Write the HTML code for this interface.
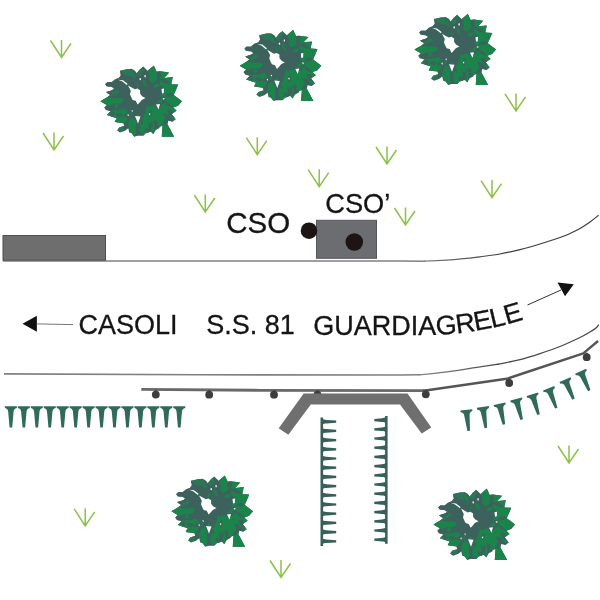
<!DOCTYPE html>
<html lang="it">
<head>
<meta charset="utf-8">
<title>CSO – S.S. 81</title>
<style>html,body{margin:0;padding:0;background:#fff;}body{width:600px;height:600px;overflow:hidden;}svg{display:block;will-change:transform;}</style>
</head>
<body>
<svg width="600" height="600" viewBox="0 0 600 600">
<rect width="600" height="600" fill="#fff"/>
<defs><g id="tree"><clipPath id="tc"><polygon points="120.0,70.8 126.7,69.2 131.7,68.8 135.0,70.8 136.7,73.3 140.0,69.2 143.3,66.5 147.5,70.8 153.8,65.4 156.7,71.7 160.0,71.3 169.2,72.5 164.2,77.9 172.9,77.1 171.3,84.2 178.3,84.6 173.8,95.0 182.1,101.3 178.3,105.8 173.3,107.5 176.7,110.8 171.7,114.2 175.8,119.2 172.5,121.7 168.3,120.8 167.5,124.2 174.2,136.7 161.7,136.7 162.5,125.8 160.0,126.7 159.2,128.3 155.8,130.0 153.3,134.2 150.8,131.7 145.8,133.3 143.3,135.8 137.5,135.8 134.2,136.7 131.7,133.3 129.2,132.5 128.3,128.3 125.0,130.8 120.0,132.5 117.1,130.4 119.2,127.5 124.2,125.8 123.3,123.3 114.6,122.1 116.7,118.3 106.7,115.0 110.8,111.3 105.8,110.0 104.2,107.5 106.7,105.0 100.4,101.3 107.5,97.1 110.0,95.0 105.8,92.1 111.7,90.4 114.2,88.8 111.7,87.1 106.7,86.3 105.0,84.2 107.5,82.1 111.7,82.1 115.0,79.2 119.0,78.0 120.8,75.0"/></clipPath>
<polygon points="120.0,70.8 126.7,69.2 131.7,68.8 135.0,70.8 136.7,73.3 140.0,69.2 143.3,66.5 147.5,70.8 153.8,65.4 156.7,71.7 160.0,71.3 169.2,72.5 164.2,77.9 172.9,77.1 171.3,84.2 178.3,84.6 173.8,95.0 182.1,101.3 178.3,105.8 173.3,107.5 176.7,110.8 171.7,114.2 175.8,119.2 172.5,121.7 168.3,120.8 167.5,124.2 174.2,136.7 161.7,136.7 162.5,125.8 160.0,126.7 159.2,128.3 155.8,130.0 153.3,134.2 150.8,131.7 145.8,133.3 143.3,135.8 137.5,135.8 134.2,136.7 131.7,133.3 129.2,132.5 128.3,128.3 125.0,130.8 120.0,132.5 117.1,130.4 119.2,127.5 124.2,125.8 123.3,123.3 114.6,122.1 116.7,118.3 106.7,115.0 110.8,111.3 105.8,110.0 104.2,107.5 106.7,105.0 100.4,101.3 107.5,97.1 110.0,95.0 105.8,92.1 111.7,90.4 114.2,88.8 111.7,87.1 106.7,86.3 105.0,84.2 107.5,82.1 111.7,82.1 115.0,79.2 119.0,78.0 120.8,75.0" fill="#3d615c"/>
<g clip-path="url(#tc)">
<path d="M157.0,77.0 Q165.1,84.0 169.2,72.5 Q158.6,66.4 157.0,77.0 Z M160.0,85.0 Q170.8,91.1 172.9,77.1 Q159.5,72.6 160.0,85.0 Z M162.0,93.0 Q174.5,101.2 178.3,84.6 Q162.5,78.0 162.0,93.0 Z M163.0,99.0 Q169.0,113.6 182.1,101.3 Q172.3,86.2 163.0,99.0 Z M163.0,104.0 Q168.1,113.4 178.3,105.8 Q170.1,96.1 163.0,104.0 Z M162.0,107.0 Q165.3,118.3 176.7,110.8 Q170.4,98.7 162.0,107.0 Z M161.0,110.0 Q162.3,121.1 175.8,119.2 Q171.5,106.3 161.0,110.0 Z M152.5,83.0 Q165.3,76.9 153.8,65.4 Q140.7,75.1 152.5,83.0 Z M124.0,100.0 Q113.9,88.2 100.4,101.3 Q115.2,112.8 124.0,100.0 Z M128.0,112.0 Q117.6,99.6 106.7,115.0 Q121.4,126.8 128.0,112.0 Z M128.0,116.0 Q118.7,109.9 114.6,122.1 Q126.5,127.0 128.0,116.0 Z M143.0,117.0 Q130.8,124.7 143.3,135.8 Q155.4,124.3 143.0,117.0 Z M132.0,117.0 Q123.5,125.9 134.2,136.7 Q142.2,123.8 132.0,117.0 Z M157.0,107.0 Q143.9,117.2 160.0,127.0 Q172.5,112.8 157.0,107.0 Z M147.0,105.0 Q141.0,118.5 153.3,134.2 Q158.0,114.8 147.0,105.0 Z M150.0,106.0 Q145.3,114.0 155.0,112.0 Q158.7,102.8 150.0,106.0 Z" fill="#1b844b"/>
<polygon points="162.5,125.8 167.5,124.2 174.2,136.7 161.7,136.7" fill="#1b844b"/>
<path d="M135.0,74.0 Q130.5,65.9 120.0,70.8 Q127.5,79.6 135.0,74.0 Z M137.0,77.0 Q144.7,75.9 143.3,66.5 Q134.4,69.7 137.0,77.0 Z M120.0,92.0 Q114.3,86.5 105.8,92.1 Q114.4,97.5 120.0,92.0 Z M124.0,127.0 Q119.0,123.9 117.1,130.4 Q123.5,132.8 124.0,127.0 Z" fill="#2b7755"/>
<path d="M160.0,79.0 Q163.1,84.3 171.3,84.2 Q166.0,77.9 160.0,79.0 Z M162.0,96.0 Q167.0,99.1 173.8,95.0 Q166.4,92.1 162.0,96.0 Z M163.0,101.5 Q165.6,106.5 173.3,107.5 Q168.6,101.3 163.0,101.5 Z M125.0,105.0 Q116.1,101.5 104.2,107.5 Q117.2,110.5 125.0,105.0 Z M126.0,108.0 Q117.6,105.8 105.8,110.0 Q118.2,111.8 126.0,108.0 Z M138.0,119.0 Q133.8,125.6 137.5,135.8 Q141.8,125.8 138.0,119.0 Z M150.0,118.0 Q145.8,123.7 150.8,131.7 Q154.8,123.2 150.0,118.0 Z M163.0,113.0 Q164.1,119.4 172.5,121.7 Q169.5,113.5 163.0,113.0 Z M125.0,96.0 Q117.7,92.4 107.5,97.1 Q118.3,100.4 125.0,96.0 Z M148.0,80.0 Q152.3,76.1 147.5,70.8 Q143.3,76.6 148.0,80.0 Z M158.0,80.0 Q162.7,77.4 160.0,71.3 Q154.9,75.6 158.0,80.0 Z" fill="#3d615c"/>
<path d="M132.3,112.4 Q128.3,111.3 128.6,116.1 Q133.3,116.4 132.3,112.4 Z M161.1,106.9 Q164.9,107.4 166.5,102.8 Q161.7,103.2 161.1,106.9 Z M149.0,110.4 Q150.6,114.5 156.3,114.2 Q153.2,109.4 149.0,110.4 Z M126.4,85.4 Q127.4,82.2 123.4,81.0 Q123.0,85.1 126.4,85.4 Z M152.7,116.2 Q156.0,120.1 160.3,115.8 Q155.5,112.0 152.7,116.2 Z M153.2,87.3 Q157.2,89.7 160.1,84.7 Q154.7,82.8 153.2,87.3 Z M151.8,111.2 Q153.3,115.3 159.0,115.8 Q156.1,110.8 151.8,111.2 Z M120.1,120.9 Q118.2,117.8 114.6,120.2 Q117.6,123.5 120.1,120.9 Z M141.9,119.8 Q139.2,122.0 141.3,125.8 Q144.1,122.5 141.9,119.8 Z M123.1,111.3 Q120.4,114.3 123.0,118.9 Q125.7,114.4 123.1,111.3 Z M143.7,113.6 Q142.8,116.8 146.7,117.9 Q146.9,113.9 143.7,113.6 Z M155.8,110.4 Q160.4,112.4 163.6,107.0 Q157.4,105.6 155.8,110.4 Z M117.3,103.8 Q113.5,104.4 115.0,108.7 Q119.3,107.2 117.3,103.8 Z M147.2,86.7 Q148.4,81.8 142.6,79.2 Q142.3,85.5 147.2,86.7 Z M151.1,76.8 Q153.8,73.4 149.9,69.8 Q147.4,74.5 151.1,76.8 Z M157.8,102.4 Q162.2,105.5 165.1,99.7 Q159.2,97.2 157.8,102.4 Z M169.7,88.1 Q170.2,92.0 175.0,91.8 Q173.5,87.2 169.7,88.1 Z M145.1,114.0 Q141.2,117.7 145.6,122.6 Q149.5,117.2 145.1,114.0 Z M160.1,96.2 Q164.9,98.5 168.2,92.8 Q161.8,91.2 160.1,96.2 Z M165.4,96.6 Q169.2,97.8 171.9,93.4 Q166.8,92.9 165.4,96.6 Z M138.2,118.7 Q138.3,123.4 144.1,125.0 Q142.9,119.0 138.2,118.7 Z M150.0,117.4 Q146.9,120.2 150.0,124.6 Q153.2,120.3 150.0,117.4 Z M108.0,103.4 Q106.0,98.2 99.8,100.9 Q103.4,106.6 108.0,103.4 Z M150.9,116.0 Q149.7,119.7 154.1,121.5 Q154.7,116.8 150.9,116.0 Z M137.2,87.6 Q139.5,84.8 136.8,80.9 Q134.5,85.1 137.2,87.6 Z M154.0,109.6 Q158.1,111.3 161.6,106.8 Q156.0,105.6 154.0,109.6 Z M137.8,113.4 Q134.7,115.3 136.7,119.3 Q140.0,116.2 137.8,113.4 Z M155.7,104.3 Q158.6,108.0 161.9,103.7 Q157.8,100.0 155.7,104.3 Z M122.9,99.5 Q120.0,97.3 118.2,101.2 Q122.0,103.0 122.9,99.5 Z M137.0,78.0 Q138.1,73.0 132.1,73.1 Q131.9,79.2 137.0,78.0 Z" fill="#1b844b"/>
<path d="M113.2,111.6 Q109.0,112.9 111.7,117.3 Q116.2,114.9 113.2,111.6 Z M121.0,90.7 Q125.1,88.5 120.8,85.5 Q116.7,88.8 121.0,90.7 Z M130.4,81.9 Q130.4,77.4 124.9,77.1 Q125.9,82.5 130.4,81.9 Z M146.9,76.2 Q149.5,72.4 144.9,69.2 Q142.7,74.3 146.9,76.2 Z M137.1,82.8 Q140.8,84.1 141.5,79.5 Q136.8,78.8 137.1,82.8 Z M156.6,75.3 Q160.4,73.9 160.3,68.6 Q155.8,71.3 156.6,75.3 Z M119.7,75.9 Q123.1,73.6 120.1,69.8 Q116.6,73.2 119.7,75.9 Z M161.5,102.3 Q164.8,103.3 166.1,99.3 Q161.9,98.9 161.5,102.3 Z M110.3,91.1 Q111.1,86.6 105.8,83.9 Q105.9,89.8 110.3,91.1 Z M122.9,115.5 Q120.5,111.5 115.3,114.2 Q119.3,118.5 122.9,115.5 Z M133.2,88.2 Q138.4,86.9 136.5,80.7 Q130.6,83.5 133.2,88.2 Z M139.2,117.5 Q135.8,120.7 140.8,122.7 Q143.9,118.4 139.2,117.5 Z M126.5,96.2 Q124.5,91.1 118.0,93.3 Q121.7,99.1 126.5,96.2 Z M138.1,117.8 Q137.3,122.5 143.1,124.1 Q142.9,118.1 138.1,117.8 Z M131.1,113.3 Q126.2,110.7 122.8,116.6 Q129.4,118.5 131.1,113.3 Z M122.9,78.1 Q120.1,73.6 115.3,77.7 Q119.6,82.3 122.9,78.1 Z M139.5,79.2 Q139.8,74.7 134.2,73.0 Q135.0,78.8 139.5,79.2 Z M150.7,109.8 Q147.5,112.8 149.7,118.0 Q153.1,113.4 150.7,109.8 Z M165.1,95.2 Q168.9,98.2 173.7,94.2 Q168.1,91.5 165.1,95.2 Z M147.4,85.7 Q150.2,83.1 147.0,79.6 Q144.3,83.5 147.4,85.7 Z M112.6,85.5 Q110.5,81.0 104.4,82.5 Q108.1,87.6 112.6,85.5 Z M126.3,97.7 Q124.0,95.2 120.5,97.6 Q123.9,100.2 126.3,97.7 Z M112.5,90.7 Q108.5,89.5 106.2,94.3 Q111.5,94.7 112.5,90.7 Z M142.7,78.9 Q147.8,76.9 144.9,71.1 Q139.4,74.6 142.7,78.9 Z M121.9,86.0 Q121.9,81.4 116.2,80.8 Q117.3,86.4 121.9,86.0 Z M109.8,89.0 Q111.3,85.8 107.4,84.0 Q106.4,88.2 109.8,89.0 Z M155.5,106.6 Q160.1,108.7 162.3,103.0 Q156.3,101.5 155.5,106.6 Z M154.9,119.8 Q151.3,123.0 156.3,125.2 Q159.6,120.9 154.9,119.8 Z M145.6,127.8 Q142.6,132.2 148.4,134.2 Q150.8,128.6 145.6,127.8 Z M123.0,84.8 Q118.7,81.4 114.2,86.4 Q120.2,89.5 123.0,84.8 Z M111.9,112.7 Q110.2,109.4 106.0,111.4 Q109.0,114.9 111.9,112.7 Z M115.1,89.1 Q111.5,86.5 110.4,91.4 Q114.9,93.5 115.1,89.1 Z M168.0,112.1 Q168.6,116.3 174.0,117.7 Q172.3,112.4 168.0,112.1 Z M167.1,110.6 Q168.4,114.8 173.2,112.5 Q170.7,107.9 167.1,110.6 Z" fill="#3d615c"/>
<polygon points="162.5,125.8 167.5,124.2 174.2,136.7 161.7,136.7" fill="#1b844b"/>
</g>
<polygon points="128.0,85.4 131.7,87.6 134.8,89.3 137.4,88.5 140.1,90.2 140.1,93.7 142.3,96.4 145.5,98.1 141.8,99.9 139.6,102.5 137.6,104.6 135.7,100.8 132.6,99.9 131.3,97.3 130.0,94.2 130.8,90.7" fill="#fff"/>
<polygon points="118.0,79.8 123.0,80.2 127.5,83.8 127.0,85.0 122.0,81.2" fill="#fff"/>
<polygon points="135.0,116.0 140.5,116.5 138.0,123.5" fill="#fff"/>
<polygon points="156.0,104.5 160.0,104.0 158.5,109.5" fill="#fff"/>
<polygon points="161.5,89.0 164.0,88.5 163.8,93.0 162.0,93.5" fill="#fff"/>
<polygon points="139.3,78.5 140.7,78.0 141.0,80.0 139.8,80.3" fill="#fff"/>
<polygon points="144.3,75.3 145.7,75.0 145.7,77.2 144.6,77.2" fill="#fff"/>
<polygon points="162.5,98.2 164.5,98.0 164.0,100.0" fill="#fff"/>
<polygon points="127.2,114.7 128.8,114.3 128.4,116.6" fill="#fff"/>
<polygon points="131.2,110.6 132.8,110.3 132.4,112.3" fill="#fff"/>
<polygon points="148.7,113.7 150.3,113.3 150.0,115.6" fill="#fff"/></g><linearGradient id="gu" gradientUnits="userSpaceOnUse" x1="425" y1="0" x2="500" y2="0"><stop offset="0" stop-color="#808080"/><stop offset="1" stop-color="#3c3c3c"/></linearGradient><linearGradient id="gl" gradientUnits="userSpaceOnUse" x1="425" y1="0" x2="500" y2="0"><stop offset="0" stop-color="#808080"/><stop offset="1" stop-color="#484848"/></linearGradient></defs>
<path d="M50.5,40.5 L61.5,57.5 L71.0,43.5 M61.5,40.0 L61.5,57.5" fill="none" stroke="#8ac146" stroke-width="1.5" stroke-linejoin="miter"/>
<path d="M43.0,133.0 L54.0,150.0 L63.5,136.0 M54.0,132.5 L54.0,150.0" fill="none" stroke="#8ac146" stroke-width="1.5" stroke-linejoin="miter"/>
<path d="M194.3,195.0 L205.3,212.0 L214.8,198.0 M205.3,194.5 L205.3,212.0" fill="none" stroke="#8ac146" stroke-width="1.5" stroke-linejoin="miter"/>
<path d="M246.3,137.7 L257.3,154.7 L266.8,140.7 M257.3,137.2 L257.3,154.7" fill="none" stroke="#8ac146" stroke-width="1.5" stroke-linejoin="miter"/>
<path d="M308.2,169.7 L319.2,186.7 L328.7,172.7 M319.2,169.2 L319.2,186.7" fill="none" stroke="#8ac146" stroke-width="1.5" stroke-linejoin="miter"/>
<path d="M376.0,147.0 L387.0,164.0 L396.5,150.0 M387.0,146.5 L387.0,164.0" fill="none" stroke="#8ac146" stroke-width="1.5" stroke-linejoin="miter"/>
<path d="M394.5,208.0 L405.5,225.0 L415.0,211.0 M405.5,207.5 L405.5,225.0" fill="none" stroke="#8ac146" stroke-width="1.5" stroke-linejoin="miter"/>
<path d="M481.0,180.6 L492.0,197.6 L501.5,183.6 M492.0,180.1 L492.0,197.6" fill="none" stroke="#8ac146" stroke-width="1.5" stroke-linejoin="miter"/>
<path d="M505.0,93.9 L516.0,110.9 L525.5,96.9 M516.0,93.4 L516.0,110.9" fill="none" stroke="#8ac146" stroke-width="1.5" stroke-linejoin="miter"/>
<path d="M74.2,508.8 L85.2,525.8 L94.7,511.8 M85.2,508.3 L85.2,525.8" fill="none" stroke="#8ac146" stroke-width="1.5" stroke-linejoin="miter"/>
<path d="M270.0,560.5 L281.0,577.5 L290.5,563.5 M281.0,560.0 L281.0,577.5" fill="none" stroke="#8ac146" stroke-width="1.5" stroke-linejoin="miter"/>
<path d="M558.0,446.0 L569.0,463.0 L578.5,449.0 M569.0,445.5 L569.0,463.0" fill="none" stroke="#8ac146" stroke-width="1.5" stroke-linejoin="miter"/>
<use href="#tree" x="0" y="0"/>
<use href="#tree" x="139.3" y="-35.6"/>
<use href="#tree" x="314" y="-51.7"/>
<use href="#tree" x="71" y="410"/>
<use href="#tree" x="333" y="423.2"/>
<path d="M3,261.1 L400,261.1 L425,261.15" fill="none" stroke="#808080" stroke-width="1.5"/>
<path d="M424.0,261.1 C427.8,261.0 440.1,260.6 446.7,260.2 C453.2,259.8 457.8,259.3 463.3,258.7 C468.9,258.1 473.9,257.6 480.0,256.8 C486.1,256.0 493.3,255.2 500.0,254.0 C506.7,252.8 513.3,251.3 520.0,249.6 C526.7,247.9 533.3,246.0 540.0,244.0 C546.7,242.0 555.0,239.2 560.0,237.5 C565.0,235.8 566.7,235.0 570.0,233.5 C573.3,232.0 576.7,230.4 580.0,228.5 C583.3,226.6 586.9,224.2 590.0,222.0 C593.1,219.8 597.1,216.4 598.5,215.3" fill="none" stroke="url(#gu)" stroke-width="1.2"/>
<rect x="3" y="235.5" width="102.5" height="24.7" fill="#6e6e6e" stroke="#4e4e4e" stroke-width="1"/>
<rect x="316.5" y="220.3" width="60" height="38" fill="#6b6d70" stroke="#55585a" stroke-width="1"/>
<circle cx="309" cy="230.7" r="8.3" fill="#1c1514"/>
<circle cx="354.3" cy="242" r="8.8" fill="#1c1514"/>
<path d="M4,373.9 L200,374.8 L400,375 L420,374.8" fill="none" stroke="#808080" stroke-width="1.6"/>
<path d="M419.0,374.9 C420.8,374.7 425.3,374.3 430.0,373.8 C434.7,373.3 441.5,372.5 447.0,371.8 C452.5,371.1 457.5,370.4 463.0,369.6 C468.5,368.8 473.8,367.8 480.0,366.8 C486.2,365.8 493.3,365.0 500.0,363.8 C506.7,362.6 513.3,361.3 520.0,359.6 C526.7,357.9 533.3,355.8 540.0,353.6 C546.7,351.4 553.3,349.2 560.0,346.5 C566.7,343.8 575.0,339.9 580.0,337.5 C585.0,335.1 587.3,333.6 590.0,332.0 C592.7,330.4 594.5,329.2 596.0,328.0 C597.5,326.8 598.2,325.3 598.7,324.8" fill="none" stroke="url(#gl)" stroke-width="1.3"/>
<path d="M141.3,389.4 L260,390.3 L425,390.6" fill="none" stroke="#696969" stroke-width="2.8"/>
<path d="M423,390.8 L425.5,390.5 L506.7,378.8 L583.3,353.3 L598,341" fill="none" stroke="#555" stroke-width="2.4" stroke-linejoin="round"/>
<rect x="154.8" y="390.1" width="2" height="3" fill="#444"/>
<circle cx="155.8" cy="394.6" r="3.9" fill="#3d3d3d"/>
<rect x="208.2" y="390.2" width="2" height="3" fill="#444"/>
<circle cx="209.2" cy="394.7" r="3.9" fill="#3d3d3d"/>
<rect x="273.0" y="390.2" width="2" height="3" fill="#444"/>
<circle cx="274" cy="394.7" r="3.9" fill="#3d3d3d"/>
<rect x="316.5" y="390.2" width="2" height="3" fill="#444"/>
<circle cx="317.5" cy="394.7" r="3.9" fill="#3d3d3d"/>
<rect x="424.8" y="389.8" width="2" height="3" fill="#444"/>
<circle cx="425.8" cy="394.3" r="3.9" fill="#3d3d3d"/>
<rect x="508.2" y="378.5" width="2" height="3" fill="#444"/>
<circle cx="509.2" cy="383" r="3.9" fill="#3d3d3d"/>
<rect x="585.7" y="352.7" width="2" height="3" fill="#444"/>
<circle cx="586.7" cy="357.2" r="3.9" fill="#3d3d3d"/>
<polygon points="303.7,393.5 407.5,393.5 431.3,427.5 421.7,433.5 400.0,404.5 310.8,404.5 288.3,434.7 278.7,428.3" fill="#6f6f6f"/>
<path d="M-6,0 L6,0 L6,1.9 C3.8,2.3 3,3.4 2.7,5.5 L1.3,21.3 L-1.3,21.3 L-2.7,5.5 C-3,3.4 -3.8,2.3 -6,1.9 Z" transform="translate(10.90,406.2)" fill="#2f6b58"/>
<path d="M-6,0 L6,0 L6,1.9 C3.8,2.3 3,3.4 2.7,5.5 L1.3,21.3 L-1.3,21.3 L-2.7,5.5 C-3,3.4 -3.8,2.3 -6,1.9 Z" transform="translate(23.85,406.2)" fill="#2f6b58"/>
<path d="M-6,0 L6,0 L6,1.9 C3.8,2.3 3,3.4 2.7,5.5 L1.3,21.3 L-1.3,21.3 L-2.7,5.5 C-3,3.4 -3.8,2.3 -6,1.9 Z" transform="translate(36.80,406.2)" fill="#2f6b58"/>
<path d="M-6,0 L6,0 L6,1.9 C3.8,2.3 3,3.4 2.7,5.5 L1.3,21.3 L-1.3,21.3 L-2.7,5.5 C-3,3.4 -3.8,2.3 -6,1.9 Z" transform="translate(49.75,406.2)" fill="#2f6b58"/>
<path d="M-6,0 L6,0 L6,1.9 C3.8,2.3 3,3.4 2.7,5.5 L1.3,21.3 L-1.3,21.3 L-2.7,5.5 C-3,3.4 -3.8,2.3 -6,1.9 Z" transform="translate(62.70,406.2)" fill="#2f6b58"/>
<path d="M-6,0 L6,0 L6,1.9 C3.8,2.3 3,3.4 2.7,5.5 L1.3,21.3 L-1.3,21.3 L-2.7,5.5 C-3,3.4 -3.8,2.3 -6,1.9 Z" transform="translate(75.65,406.2)" fill="#2f6b58"/>
<path d="M-6,0 L6,0 L6,1.9 C3.8,2.3 3,3.4 2.7,5.5 L1.3,21.3 L-1.3,21.3 L-2.7,5.5 C-3,3.4 -3.8,2.3 -6,1.9 Z" transform="translate(88.60,406.2)" fill="#2f6b58"/>
<path d="M-6,0 L6,0 L6,1.9 C3.8,2.3 3,3.4 2.7,5.5 L1.3,21.3 L-1.3,21.3 L-2.7,5.5 C-3,3.4 -3.8,2.3 -6,1.9 Z" transform="translate(101.55,406.2)" fill="#2f6b58"/>
<path d="M-6,0 L6,0 L6,1.9 C3.8,2.3 3,3.4 2.7,5.5 L1.3,21.3 L-1.3,21.3 L-2.7,5.5 C-3,3.4 -3.8,2.3 -6,1.9 Z" transform="translate(114.50,406.2)" fill="#2f6b58"/>
<path d="M-6,0 L6,0 L6,1.9 C3.8,2.3 3,3.4 2.7,5.5 L1.3,21.3 L-1.3,21.3 L-2.7,5.5 C-3,3.4 -3.8,2.3 -6,1.9 Z" transform="translate(127.45,406.2)" fill="#2f6b58"/>
<path d="M-6,0 L6,0 L6,1.9 C3.8,2.3 3,3.4 2.7,5.5 L1.3,21.3 L-1.3,21.3 L-2.7,5.5 C-3,3.4 -3.8,2.3 -6,1.9 Z" transform="translate(140.40,406.2)" fill="#2f6b58"/>
<path d="M-6,0 L6,0 L6,1.9 C3.8,2.3 3,3.4 2.7,5.5 L1.3,21.3 L-1.3,21.3 L-2.7,5.5 C-3,3.4 -3.8,2.3 -6,1.9 Z" transform="translate(153.35,406.2)" fill="#2f6b58"/>
<path d="M-6,0 L6,0 L6,1.9 C3.8,2.3 3,3.4 2.7,5.5 L1.3,21.3 L-1.3,21.3 L-2.7,5.5 C-3,3.4 -3.8,2.3 -6,1.9 Z" transform="translate(166.30,406.2)" fill="#2f6b58"/>
<path d="M-6,0 L6,0 L6,1.9 C3.8,2.3 3,3.4 2.7,5.5 L1.3,21.3 L-1.3,21.3 L-2.7,5.5 C-3,3.4 -3.8,2.3 -6,1.9 Z" transform="translate(179.25,406.2)" fill="#2f6b58"/>
<path d="M-6,0 L6,0 L6,1.9 C3.8,2.3 3,3.4 2.7,5.5 L1.3,21.3 L-1.3,21.3 L-2.7,5.5 C-3,3.4 -3.8,2.3 -6,1.9 Z" transform="translate(466.40,410.80) rotate(-6.5) translate(0,-1)" fill="#2f6b58"/>
<path d="M-6,0 L6,0 L6,1.9 C3.8,2.3 3,3.4 2.7,5.5 L1.3,21.3 L-1.3,21.3 L-2.7,5.5 C-3,3.4 -3.8,2.3 -6,1.9 Z" transform="translate(483.00,407.90) rotate(-8) translate(0,-1)" fill="#2f6b58"/>
<path d="M-6,0 L6,0 L6,1.9 C3.8,2.3 3,3.4 2.7,5.5 L1.3,21.3 L-1.3,21.3 L-2.7,5.5 C-3,3.4 -3.8,2.3 -6,1.9 Z" transform="translate(499.70,404.70) rotate(-12) translate(0,-1)" fill="#2f6b58"/>
<path d="M-6,0 L6,0 L6,1.9 C3.8,2.3 3,3.4 2.7,5.5 L1.3,21.3 L-1.3,21.3 L-2.7,5.5 C-3,3.4 -3.8,2.3 -6,1.9 Z" transform="translate(516.40,400.00) rotate(-15) translate(0,-1)" fill="#2f6b58"/>
<path d="M-6,0 L6,0 L6,1.9 C3.8,2.3 3,3.4 2.7,5.5 L1.3,21.3 L-1.3,21.3 L-2.7,5.5 C-3,3.4 -3.8,2.3 -6,1.9 Z" transform="translate(532.60,395.20) rotate(-17) translate(0,-1)" fill="#2f6b58"/>
<path d="M-6,0 L6,0 L6,1.9 C3.8,2.3 3,3.4 2.7,5.5 L1.3,21.3 L-1.3,21.3 L-2.7,5.5 C-3,3.4 -3.8,2.3 -6,1.9 Z" transform="translate(549.00,389.20) rotate(-21) translate(0,-1)" fill="#2f6b58"/>
<path d="M-6,0 L6,0 L6,1.9 C3.8,2.3 3,3.4 2.7,5.5 L1.3,21.3 L-1.3,21.3 L-2.7,5.5 C-3,3.4 -3.8,2.3 -6,1.9 Z" transform="translate(565.40,380.50) rotate(-23.5) translate(0,-1)" fill="#2f6b58"/>
<path d="M-6,0 L6,0 L6,1.9 C3.8,2.3 3,3.4 2.7,5.5 L1.3,21.3 L-1.3,21.3 L-2.7,5.5 C-3,3.4 -3.8,2.3 -6,1.9 Z" transform="translate(581.00,372.10) rotate(-24) translate(0,-1)" fill="#2f6b58"/>
<rect x="320.5" y="417.5" width="2.6" height="128.5" fill="#38605a"/>
<path d="M321.8,418.7 C323.6,419.4 324.4,419.9 326.3,419.9 L336.2,420.6 L336.2,422.8 L326.3,423.5 C324.4,423.5 323.6,424.0 321.8,424.7 Z" fill="#38605a"/>
<path d="M321.8,427.9 C323.6,428.6 324.4,429.1 326.3,429.1 L336.2,429.8 L336.2,432.0 L326.3,432.7 C324.4,432.7 323.6,433.2 321.8,433.9 Z" fill="#38605a"/>
<path d="M321.8,437.1 C323.6,437.8 324.4,438.3 326.3,438.3 L336.2,439.0 L336.2,441.2 L326.3,441.9 C324.4,441.9 323.6,442.4 321.8,443.1 Z" fill="#38605a"/>
<path d="M321.8,446.3 C323.6,447.0 324.4,447.5 326.3,447.5 L336.2,448.2 L336.2,450.4 L326.3,451.1 C324.4,451.1 323.6,451.6 321.8,452.3 Z" fill="#38605a"/>
<path d="M321.8,455.5 C323.6,456.2 324.4,456.7 326.3,456.7 L336.2,457.4 L336.2,459.6 L326.3,460.3 C324.4,460.3 323.6,460.8 321.8,461.5 Z" fill="#38605a"/>
<path d="M321.8,464.7 C323.6,465.4 324.4,465.9 326.3,465.9 L336.2,466.6 L336.2,468.8 L326.3,469.5 C324.4,469.5 323.6,470.0 321.8,470.7 Z" fill="#38605a"/>
<path d="M321.8,473.9 C323.6,474.6 324.4,475.1 326.3,475.1 L336.2,475.8 L336.2,478.0 L326.3,478.7 C324.4,478.7 323.6,479.2 321.8,479.9 Z" fill="#38605a"/>
<path d="M321.8,483.1 C323.6,483.8 324.4,484.3 326.3,484.3 L336.2,485.0 L336.2,487.2 L326.3,487.9 C324.4,487.9 323.6,488.4 321.8,489.1 Z" fill="#38605a"/>
<path d="M321.8,492.3 C323.6,493.0 324.4,493.5 326.3,493.5 L336.2,494.2 L336.2,496.4 L326.3,497.1 C324.4,497.1 323.6,497.6 321.8,498.3 Z" fill="#38605a"/>
<path d="M321.8,501.5 C323.6,502.2 324.4,502.7 326.3,502.7 L336.2,503.4 L336.2,505.6 L326.3,506.3 C324.4,506.3 323.6,506.8 321.8,507.5 Z" fill="#38605a"/>
<path d="M321.8,510.7 C323.6,511.4 324.4,511.9 326.3,511.9 L336.2,512.6 L336.2,514.8 L326.3,515.5 C324.4,515.5 323.6,516.0 321.8,516.7 Z" fill="#38605a"/>
<path d="M321.8,519.9 C323.6,520.6 324.4,521.1 326.3,521.1 L336.2,521.8 L336.2,524.0 L326.3,524.7 C324.4,524.7 323.6,525.2 321.8,525.9 Z" fill="#38605a"/>
<path d="M321.8,529.1 C323.6,529.8 324.4,530.3 326.3,530.3 L336.2,531.0 L336.2,533.2 L326.3,533.9 C324.4,533.9 323.6,534.4 321.8,535.1 Z" fill="#38605a"/>
<path d="M321.8,538.3 C323.6,539.0 324.4,539.5 326.3,539.5 L336.2,540.2 L336.2,542.4 L326.3,543.1 C324.4,543.1 323.6,543.6 321.8,544.3 Z" fill="#38605a"/>
<rect x="385.1" y="416.0" width="2.5" height="127.8" fill="#38605a"/>
<path d="M386.3,417.1 C384.5,417.8 383.7,418.3 381.8,418.3 L374.3,419.0 L374.3,421.2 L381.8,421.9 C383.7,421.9 384.5,422.4 386.3,423.1 Z" fill="#38605a"/>
<path d="M386.3,426.3 C384.5,427.0 383.7,427.5 381.8,427.5 L374.3,428.2 L374.3,430.4 L381.8,431.1 C383.7,431.1 384.5,431.6 386.3,432.3 Z" fill="#38605a"/>
<path d="M386.3,435.5 C384.5,436.2 383.7,436.7 381.8,436.7 L374.3,437.4 L374.3,439.6 L381.8,440.3 C383.7,440.3 384.5,440.8 386.3,441.5 Z" fill="#38605a"/>
<path d="M386.3,444.7 C384.5,445.4 383.7,445.9 381.8,445.9 L374.3,446.6 L374.3,448.8 L381.8,449.5 C383.7,449.5 384.5,450.0 386.3,450.7 Z" fill="#38605a"/>
<path d="M386.3,453.9 C384.5,454.6 383.7,455.1 381.8,455.1 L374.3,455.8 L374.3,458.0 L381.8,458.7 C383.7,458.7 384.5,459.2 386.3,459.9 Z" fill="#38605a"/>
<path d="M386.3,463.1 C384.5,463.8 383.7,464.3 381.8,464.3 L374.3,465.0 L374.3,467.2 L381.8,467.9 C383.7,467.9 384.5,468.4 386.3,469.1 Z" fill="#38605a"/>
<path d="M386.3,472.3 C384.5,473.0 383.7,473.5 381.8,473.5 L374.3,474.2 L374.3,476.4 L381.8,477.1 C383.7,477.1 384.5,477.6 386.3,478.3 Z" fill="#38605a"/>
<path d="M386.3,481.5 C384.5,482.2 383.7,482.7 381.8,482.7 L374.3,483.4 L374.3,485.6 L381.8,486.3 C383.7,486.3 384.5,486.8 386.3,487.5 Z" fill="#38605a"/>
<path d="M386.3,490.7 C384.5,491.4 383.7,491.9 381.8,491.9 L374.3,492.6 L374.3,494.8 L381.8,495.5 C383.7,495.5 384.5,496.0 386.3,496.7 Z" fill="#38605a"/>
<path d="M386.3,499.9 C384.5,500.6 383.7,501.1 381.8,501.1 L374.3,501.8 L374.3,504.0 L381.8,504.7 C383.7,504.7 384.5,505.2 386.3,505.9 Z" fill="#38605a"/>
<path d="M386.3,509.1 C384.5,509.8 383.7,510.3 381.8,510.3 L374.3,511.0 L374.3,513.2 L381.8,513.9 C383.7,513.9 384.5,514.4 386.3,515.1 Z" fill="#38605a"/>
<path d="M386.3,518.3 C384.5,519.0 383.7,519.5 381.8,519.5 L374.3,520.2 L374.3,522.4 L381.8,523.1 C383.7,523.1 384.5,523.6 386.3,524.3 Z" fill="#38605a"/>
<path d="M386.3,527.5 C384.5,528.2 383.7,528.7 381.8,528.7 L374.3,529.4 L374.3,531.6 L381.8,532.3 C383.7,532.3 384.5,532.8 386.3,533.5 Z" fill="#38605a"/>
<path d="M386.3,536.7 C384.5,537.4 383.7,537.9 381.8,537.9 L374.3,538.6 L374.3,540.8 L381.8,541.5 C383.7,541.5 384.5,542.0 386.3,542.7 Z" fill="#38605a"/>
<path d="M37,323.9 L73,324.6" stroke="#777" stroke-width="1" fill="none"/>
<polygon points="22.5,323.7 36.9,315.8 36.9,331.7" fill="#111"/>
<path d="M527.5,305 L561,290" stroke="#333" stroke-width="1" fill="none"/>
<polygon points="573.8,284.2 557.5,282.5 565,296.3" fill="#111"/>
<text x="226.3" y="233.2" font-size="29.5" font-family="&quot;Liberation Sans&quot;, sans-serif" fill="#141414" stroke="#141414" stroke-width="0.3">CSO</text>
<text x="325.3" y="213.3" font-size="27.2" font-family="&quot;Liberation Sans&quot;, sans-serif" fill="#141414" stroke="#141414" stroke-width="0.3">CSO’</text>
<text x="78.4" y="333.5" font-size="27" font-family="&quot;Liberation Sans&quot;, sans-serif" fill="#141414" stroke="#141414" stroke-width="0.3">CASOLI</text>
<text x="206.2" y="333.5" font-size="27" font-family="&quot;Liberation Sans&quot;, sans-serif" fill="#141414" stroke="#141414" stroke-width="0.3">S.S. 81</text>
<path id="gp" d="M313.2,335 L425,335 Q478,335 530,317.3 L560,306.5" fill="none"/>
<text font-size="27" dx="0 0 0 0 0 0 0 0 -0.6 -0.8 -0.9 0.2" font-family="&quot;Liberation Sans&quot;, sans-serif" fill="#141414" stroke="#141414" stroke-width="0.3"><textPath href="#gp">GUARDIAGRELE</textPath></text>
</svg>
</body>
</html>
